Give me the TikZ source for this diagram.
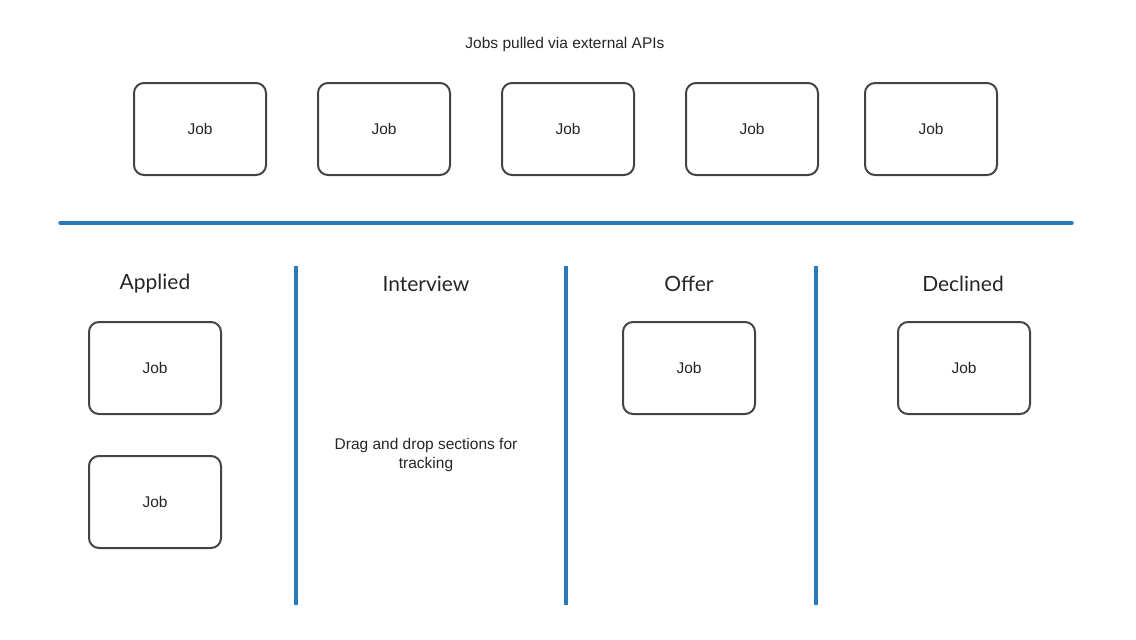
\documentclass[tikz,border=0pt]{standalone}
\usepackage{fontspec}
\setmainfont{Liberation Sans}
\newfontfamily\headfont{Lato}
\definecolor{sepblue}{HTML}{2A7AB9}
\definecolor{boxgray}{HTML}{444444}
\begin{document}
\begin{tikzpicture}[x=1pt,y=-1pt,
  job/.style={draw=boxgray,line width=2pt,rounded corners=10pt,minimum width=132pt,minimum height=92pt,inner sep=0pt,text depth=0pt,font=\fontsize{15.5}{18}\selectfont,text=black!85},
  head/.style={font=\headfont\fontsize{21}{24}\selectfont,text=black!85},
  note/.style={font=\fontsize{15.5}{19}\selectfont,text=black!85,align=center},
  sep/.style={draw=sepblue,line width=3.5pt,line cap=round}]
\useasboundingbox (0,0) rectangle (1136,640);
\node[note] (title) at (565,44.5) {Jobs pulled via external APIs};
\node[job] (t1) at (200,129) {Job};
\node[job] (t2) at (384,129) {Job};
\node[job] (t3) at (568,129) {Job};
\node[job] (t4) at (752,129) {Job};
\node[job] (t5) at (931,129) {Job};
\coordinate (hL) at (60,223);
\coordinate (hR) at (1072,223);
\draw[sep] (hL) -- (hR);
\coordinate (v1a) at (296,266); \coordinate (v1b) at (296,605);
\coordinate (v2a) at (566,266); \coordinate (v2b) at (566,605);
\coordinate (v3a) at (816,266); \coordinate (v3b) at (816,605);
\draw[sep,line cap=butt] (v1a) -- (v1b);
\draw[sep,line cap=butt] (v2a) -- (v2b);
\draw[sep,line cap=butt] (v3a) -- (v3b);
\node[head] (h1) at (155,284) {Applied};
\node[head] (h2) at (426,284) {Interview};
\node[head] (h3) at (689,284) {Offer};
\node[head] (h4) at (963,284) {Declined};
\node[job] (a1) at (155,368) {Job};
\node[job] (a2) at (155,502) {Job};
\node[job] (o1) at (689,368) {Job};
\node[job] (d1) at (964,368) {Job};
\node[note] (drag) at (426,454.5) {Drag and drop sections for\\tracking};
\end{tikzpicture}
\end{document}
